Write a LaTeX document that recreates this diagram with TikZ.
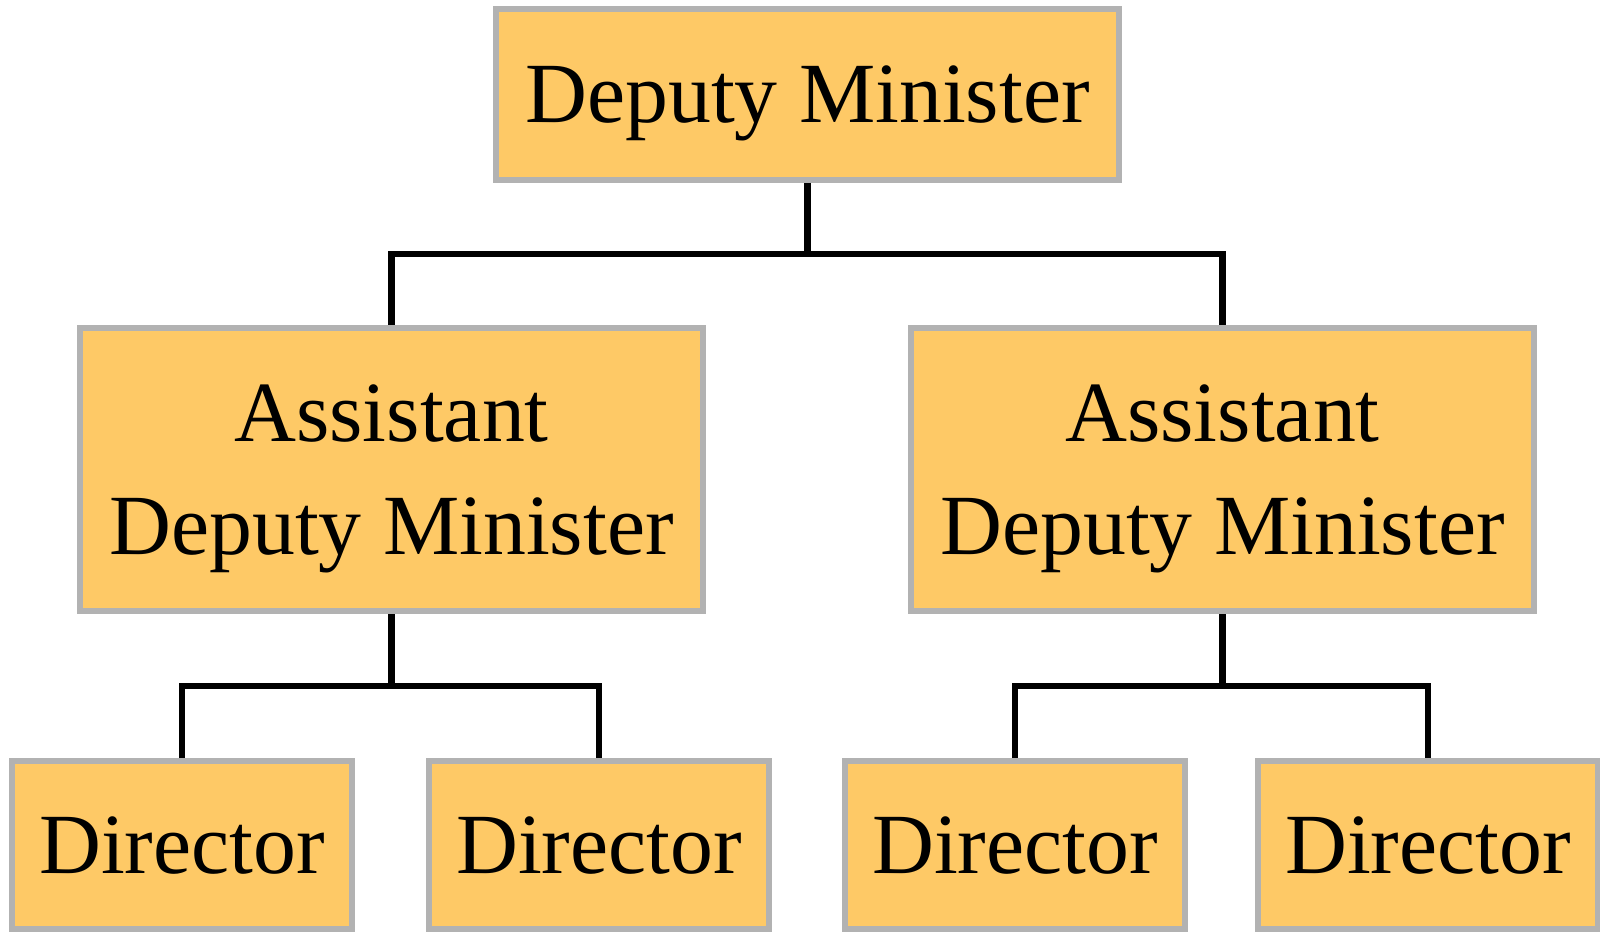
\documentclass[tikz,border=0pt]{standalone}
\usepackage{fontspec}
\setmainfont{Liberation Serif}
\definecolor{boxfill}{RGB}{254,201,102}
\definecolor{boxline}{RGB}{178,178,178}
\begin{document}
\begin{tikzpicture}[
    post/.style={draw=boxline, line width=0.06cm, fill=boxfill, inner sep=0pt,
        align=center, text depth=0pt,
        font=\fontsize{24.4}{32.2}\selectfont},
    link/.style={line width=0.065cm, black}
    ]
        \useasboundingbox (0,0) rectangle (16,9.32);

        % Vertici
        \node[post, minimum width=6.23cm, minimum height=1.71cm] (dm) at (8.075, 8.375) {Deputy Minister};

        % Assistenti
        \node[post, minimum width=6.23cm, minimum height=2.83cm] (adm1) at (3.915, 4.625) {Assistant\\Deputy Minister};
        \node[post, minimum width=6.23cm, minimum height=2.83cm] (adm2) at (12.225, 4.625) {Assistant\\Deputy Minister};

        % Direttori
        \node[post, minimum width=3.40cm, minimum height=1.68cm] (dir1) at (1.82, 0.87) {Director};
        \node[post, minimum width=3.40cm, minimum height=1.68cm] (dir2) at (5.99, 0.87) {Director};
        \node[post, minimum width=3.40cm, minimum height=1.68cm] (dir3) at (10.15, 0.87) {Director};
        \node[post, minimum width=3.40cm, minimum height=1.68cm] (dir4) at (14.28, 0.87) {Director};

        % Collegamenti
        \coordinate (j0) at (dm.south |- 0,6.78);
        \coordinate (j1) at (adm1.south |- 0,2.46);
        \coordinate (j2) at (adm2.south |- 0,2.46);
        \draw[link] (dm.south) -- (j0);
        \draw[link] (adm1.north) |- (j0) -| (adm2.north);
        \draw[link] (adm1.south) -- (j1);
        \draw[link] (dir1.north) |- (j1) -| (dir2.north);
        \draw[link] (adm2.south) -- (j2);
        \draw[link] (dir3.north) |- (j2) -| (dir4.north);
    \end{tikzpicture}
\end{document}
